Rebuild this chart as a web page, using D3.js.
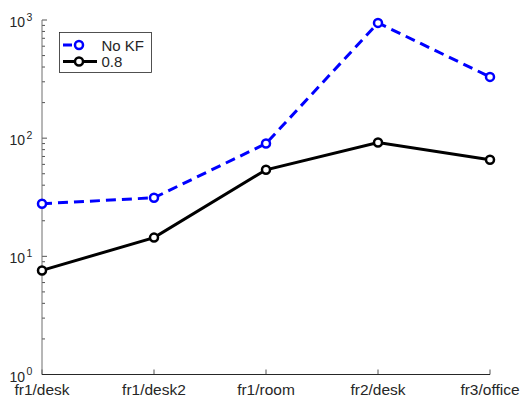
<!DOCTYPE html>
<html>
<head>
<meta charset="utf-8">
<script src="https://cdn.jsdelivr.net/npm/d3@7"></script>
<style>
  body { margin: 0; background: #fff; }
  text { font-family: "Liberation Sans", Arial, sans-serif; fill: #262626; }
</style>
</head>
<body>
<div id="chart"></div>
<script>
// data
var categories = ["fr1/desk", "fr1/desk2", "fr1/room", "fr2/desk", "fr3/office"];
var noKF = [27.9, 31.3, 90, 945, 330];
var kf08 = [7.6, 14.4, 54, 92, 65.6];
var seriesNames = ["No KF", "0.8"];
var yTickExps = [0, 1, 2, 3];

var W = 524, H = 399;
var svg = d3.select("#chart").append("svg")
    .attr("width", W)
    .attr("height", H);

var x = d3.scalePoint()
    .domain(categories)
    .range([42, 490]);

var y = d3.scaleLog()
    .domain([1, 1000])
    .range([374.5, 20]);

// minor ticks on log axis
var minor = [];
for (var e = 0; e < 3; e++) {
    for (var m = 2; m <= 9; m++) minor.push(m * Math.pow(10, e));
}
svg.append("g").selectAll("line").data(minor).enter().append("line")
    .attr("x1", 42).attr("x2", 45)
    .attr("y1", function (d) { return y(d); })
    .attr("y2", function (d) { return y(d); })
    .attr("stroke", "#262626").attr("stroke-width", 0.8);

// major y ticks + labels
var yg = svg.append("g");
yTickExps.forEach(function (p) {
    var v = Math.pow(10, p);
    yg.append("line")
        .attr("x1", 42).attr("x2", 47)
        .attr("y1", y(v)).attr("y2", y(v))
        .attr("stroke", "#262626").attr("stroke-width", 0.8);
    var t = yg.append("text")
        .attr("x", 25).attr("y", y(v) + 7)
        .attr("text-anchor", "end")
        .style("font-size", "14px")
        .text("10");
    yg.append("text")
        .attr("x", 26.5).attr("y", y(v) + 0.5)
        .style("font-size", "10.5px")
        .text(String(p));
});

// x ticks + labels
var xg = svg.append("g");
categories.forEach(function (c) {
    xg.append("line")
        .attr("x1", x(c)).attr("x2", x(c))
        .attr("y1", 374.5).attr("y2", 369.5)
        .attr("stroke", "#262626").attr("stroke-width", 0.8);
    xg.append("text")
        .attr("x", x(c)).attr("y", 395)
        .attr("text-anchor", "middle")
        .style("font-size", "15.5px")
        .text(c);
});

// axis lines
svg.append("line")
    .attr("x1", 42).attr("x2", 42).attr("y1", 20).attr("y2", 374.5)
    .attr("stroke", "#6e6e6e").attr("stroke-width", 1);
svg.append("line")
    .attr("x1", 42).attr("x2", 490).attr("y1", 374.5).attr("y2", 374.5)
    .attr("stroke", "#262626").attr("stroke-width", 1);

// series
var series = [
    { name: seriesNames[0], values: noKF, color: "#0000ff", dash: "10,6" },
    { name: seriesNames[1], values: kf08, color: "#000000", dash: null }
];

var line = d3.line()
    .x(function (d, i) { return x(categories[i]); })
    .y(function (d) { return y(d); });

series.forEach(function (s) {
    svg.append("path")
        .datum(s.values)
        .attr("d", line)
        .attr("fill", "none")
        .attr("stroke", s.color)
        .attr("stroke-width", 3)
        .attr("stroke-dasharray", s.dash);
    svg.append("g").selectAll("circle").data(s.values).enter().append("circle")
        .attr("cx", function (d, i) { return x(categories[i]); })
        .attr("cy", function (d) { return y(d); })
        .attr("r", 4)
        .attr("fill", "#fff")
        .attr("stroke", s.color)
        .attr("stroke-width", 2.5);
});

// legend
var lg = svg.append("g");
lg.append("rect")
    .attr("x", 59.5).attr("y", 32.5)
    .attr("width", 92).attr("height", 40)
    .attr("fill", "#fff")
    .attr("stroke", "#262626").attr("stroke-width", 0.8);
series.forEach(function (s, i) {
    var ly = 45 + i * 16.5;
    lg.append("line")
        .attr("x1", 63).attr("x2", 97)
        .attr("y1", ly).attr("y2", ly)
        .attr("stroke", s.color).attr("stroke-width", 3)
        .attr("stroke-dasharray", s.dash ? "9,6,4,15" : null);
    lg.append("circle")
        .attr("cx", 79).attr("cy", ly).attr("r", 4)
        .attr("fill", "#fff")
        .attr("stroke", s.color).attr("stroke-width", 2.5);
    lg.append("text")
        .attr("x", 101.5).attr("y", ly + 5.5)
        .style("font-size", "15px")
        .text(s.name);
});
</script>
</body>
</html>
